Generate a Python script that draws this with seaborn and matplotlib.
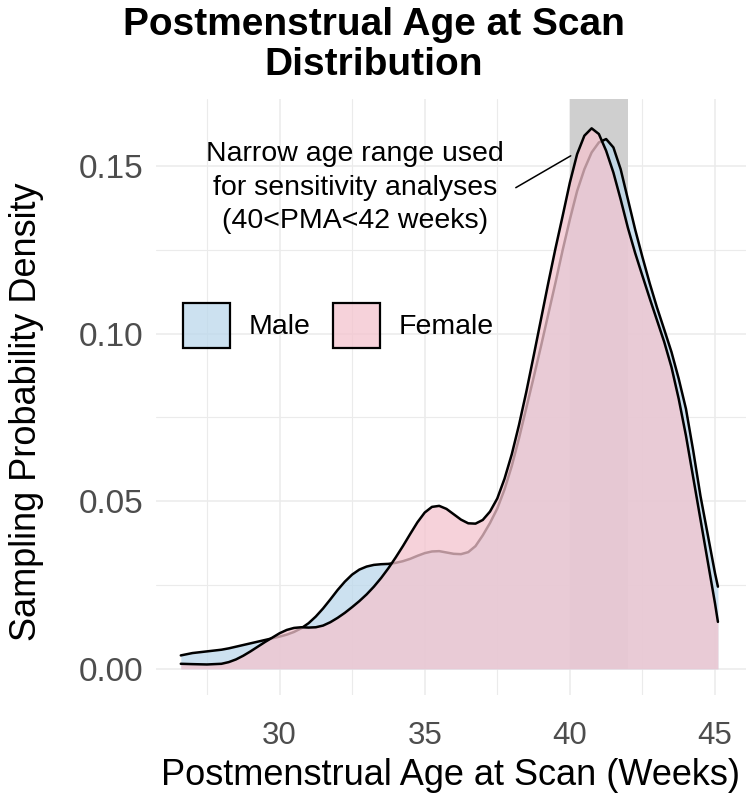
import pandas as pd
import matplotlib
matplotlib.use("Agg")
import matplotlib.pyplot as plt
from matplotlib.patches import Patch
from matplotlib.colors import to_rgba
from matplotlib.ticker import MultipleLocator
import seaborn as sns

# values (density at each week)
weeks = [26.6, 27.0, 27.5, 28.0,
         28.25, 28.5, 28.75, 29.0,
         29.25, 29.5, 29.75, 30.0,
         30.25, 30.5, 30.75, 31.0,
         31.25, 31.5, 31.75, 32.0,
         32.25, 32.5, 32.75, 33.0,
         33.25, 33.5, 33.75, 34.0,
         34.25, 34.5, 34.75, 35.0,
         35.25, 35.5, 35.75, 36.0,
         36.25, 36.5, 36.75, 37.0,
         37.25, 37.5, 37.75, 38.0,
         38.25, 38.5, 38.75, 39.0,
         39.25, 39.5, 39.75, 40.0,
         40.25, 40.5, 40.75, 41.0,
         41.25, 41.5, 41.75, 42.0,
         42.25, 42.5, 42.75, 43.0,
         43.25, 43.5, 43.75, 44.0,
         44.25, 44.5, 44.75, 45.0,
         45.1]
male_density = [0.0040, 0.0047, 0.0052, 0.0057,
                0.0061, 0.0066, 0.0071, 0.0076,
                0.0081, 0.0086, 0.0091, 0.0096,
                0.0102, 0.0110, 0.0121, 0.0136,
                0.0156, 0.0180, 0.0207, 0.0235,
                0.0260, 0.0281, 0.0296, 0.0305,
                0.0310, 0.0312, 0.0313, 0.0316,
                0.0321, 0.0328, 0.0337, 0.0345,
                0.0350, 0.0351, 0.0347, 0.0343,
                0.0342, 0.0348, 0.0366, 0.0398,
                0.0435, 0.0478, 0.0535, 0.0605,
                0.0688, 0.0778, 0.0868, 0.0960,
                0.1055, 0.1150, 0.1248, 0.1340,
                0.1425, 0.1490, 0.1540, 0.1570,
                0.1580, 0.1555, 0.1490, 0.1400,
                0.1310, 0.1228, 0.1150, 0.1078,
                0.1012, 0.0945, 0.0865, 0.0775,
                0.0650, 0.0515, 0.0400, 0.0285,
                0.0245]
female_density = [0.0015, 0.0014, 0.0013, 0.0015,
                  0.0020, 0.0028, 0.0039, 0.0052,
                  0.0066, 0.0080, 0.0093, 0.0106,
                  0.0116, 0.0122, 0.0124, 0.0123,
                  0.0124, 0.0129, 0.0139, 0.0152,
                  0.0167, 0.0184, 0.0202, 0.0222,
                  0.0245, 0.0271, 0.0300, 0.0332,
                  0.0366, 0.0402, 0.0437, 0.0466,
                  0.0483, 0.0486, 0.0477, 0.0461,
                  0.0445, 0.0434, 0.0433, 0.0444,
                  0.0469, 0.0508, 0.0567, 0.0640,
                  0.0728, 0.0826, 0.0932, 0.1040,
                  0.1148, 0.1252, 0.1350, 0.1450,
                  0.1535, 0.1590, 0.1612, 0.1595,
                  0.1545, 0.1480, 0.1400, 0.1315,
                  0.1240, 0.1172, 0.1105, 0.1040,
                  0.0975, 0.0900, 0.0805, 0.0695,
                  0.0570, 0.0445, 0.0320, 0.0195,
                  0.0140]

sexes = ["Male", "Female"]
fill_colors = {"Male": "#bcd8eb", "Female": "#f4c4ce"}
narrow_range = (40, 42)
x_ticks = [30, 35, 40, 45]
y_ticks = [0.00, 0.05, 0.10, 0.15]

df = pd.concat([
    pd.DataFrame({"week": weeks, "density": male_density, "sex": "Male"}),
    pd.DataFrame({"week": weeks, "density": female_density, "sex": "Female"}),
])

sns.set_theme(style="whitegrid")
plt.rcParams["font.family"] = ["Liberation Sans", "DejaVu Sans"]

fig, ax = plt.subplots(figsize=(7.47, 8.10), dpi=100)
fig.subplots_adjust(left=0.209, right=0.998, top=0.878, bottom=0.142)

ylim = (-0.0078, 0.170)

# shaded sensitivity-analysis window, from 0 up to the top of the panel
ax.axvspan(*narrow_range, ymin=-ylim[0] / (ylim[1] - ylim[0]), ymax=1,
           color="#cfcfcf", lw=0, zorder=1)

for i, sex in enumerate(sexes):
    sub = df[df["sex"] == sex]
    ax.fill_between(sub["week"], 0, sub["density"], color=fill_colors[sex],
                    alpha=0.75, lw=0, zorder=2 + i)
    sns.lineplot(data=sub, x="week", y="density", color="black", lw=1.8,
                 sort=False, estimator=None, ax=ax, zorder=2.5 + i)

ax.annotate("Narrow age range used\nfor sensitivity analyses\n(40<PMA<42 weeks)",
            xy=(40.03, 0.153), xytext=(32.6, 0.1435), ha="center", va="center",
            fontsize=20.5, linespacing=1.37, color="black",
            arrowprops=dict(arrowstyle="-", color="black", lw=1.1,
                            shrinkA=0, shrinkB=0, relpos=(1.04, 0.5)))

handles = [Patch(facecolor=to_rgba(fill_colors[s], 0.75), edgecolor="black",
                 linewidth=1.6, label=s) for s in sexes]
leg = ax.legend(handles=handles, loc="center left", bbox_to_anchor=(0.046, 0.62),
                ncol=2, frameon=False, fontsize=20.5, handlelength=1.65,
                handleheight=2.05, handletextpad=0.65, columnspacing=0.8,
                borderpad=0, borderaxespad=0)
for t in leg.get_texts():
    t.set_color("black")

ax.set_xlim(25.75, 46.05)
ax.set_ylim(*ylim)
ax.set_xticks(x_ticks)
ax.set_yticks(y_ticks)
ax.set_yticklabels([f"{v:.2f}" for v in y_ticks])
ax.xaxis.set_minor_locator(MultipleLocator(2.5))
ax.yaxis.set_minor_locator(MultipleLocator(0.025))
ax.grid(which="major", color="#ebebeb", lw=1.1)
ax.grid(which="minor", color="#ebebeb", lw=0.8)
ax.set_axisbelow(True)
ax.tick_params(axis="both", which="both", length=0, colors="#4d4d4d")
ax.tick_params(axis="x", labelsize=22.5, pad=19)
ax.tick_params(axis="y", labelsize=24, pad=9)
for s in ax.spines.values():
    s.set_visible(False)

ax.set_xlabel("Postmenstrual Age at Scan (Weeks)", fontsize=26, labelpad=5,
              color="black")
ax.set_ylabel("Sampling Probability Density", fontsize=26, color="black")
ax.yaxis.set_label_coords(-0.19, 0.475)

fig.suptitle("Postmenstrual Age at Scan\nDistribution", fontsize=28,
             fontweight="bold", x=0.5, y=0.991, va="top", linespacing=1.13,
             color="black")

fig.savefig("out.png", dpi=100)
